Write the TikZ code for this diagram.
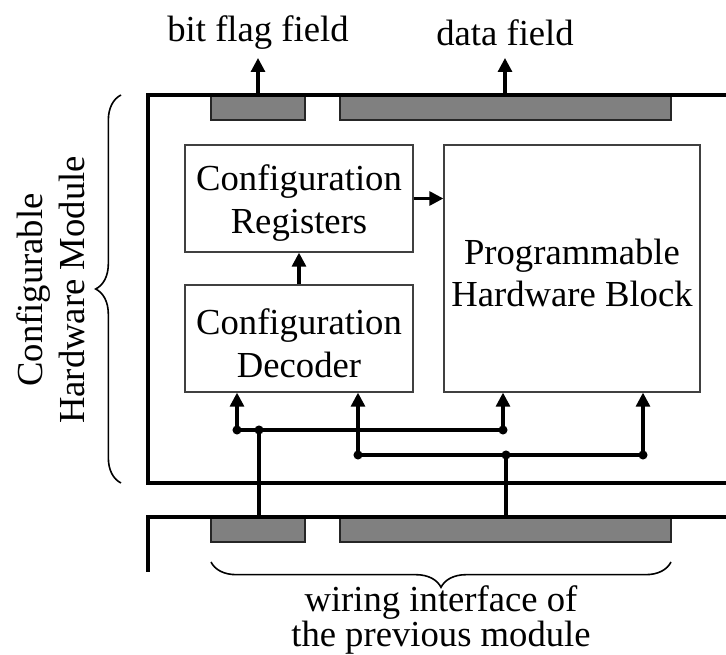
\documentclass[tikz,border=0pt]{standalone}
\usepackage{fontspec}
\setmainfont{Liberation Serif}
\usetikzlibrary{arrows.meta,decorations.pathreplacing}
\begin{document}
\begin{tikzpicture}[x=0.75pt,y=-0.75pt,
  every node/.style={font=\fontsize{27.5}{32}\selectfont},
  frame/.style={line width=2.9pt},
  wire/.style={line width=2.3pt},
  arr/.style={wire,-{Triangle[length=10.5pt,width=10.5pt]}},
  block/.style={draw=black!75,line width=1pt,fill=white,inner sep=0pt},
  btext/.style={align=center,inner sep=0pt,yshift=-3.4pt},
  field/.style={draw=black!85,line width=1.2pt,fill=black!50,inner sep=0pt,minimum height=18.75pt},
  lbl/.style={align=center,inner sep=0pt},
  curly/.style={decorate,decoration={brace,amplitude=19pt},line width=1.2pt}]
\useasboundingbox (0,0) rectangle (726,655);

% output fields of this module
\node[field,minimum width=70.5pt] (flagT) at (258,107.5) {};
\node[field,minimum width=248.25pt] (dataT) at (505.5,107.5) {};
\draw[frame] (726,95) -- (148,95) -- (148,483) -- (726,483);

\node[lbl] (flagL) at (258,33) {bit flag field};
\node[lbl] (dataL) at (505,33) {data field};
\coordinate (flagTip) at (258,58);
\coordinate (dataTip) at (505,58);
\draw[arr] (flagT.north) -- (flagTip);
\draw[arr] (dataT.north -| dataTip) -- (dataTip);

% internal blocks
\node[block,minimum width=171pt,minimum height=80.25pt] (reg) at (299,198.5) {};
\node[btext] (regT) at (reg) {Configuration\\Registers};
\node[block,minimum width=171pt,minimum height=80.25pt] (dec) at (299,338.5) {};
\node[btext] (decT) at (dec) {Configuration\\Decoder};
\node[block,minimum width=192pt,minimum height=185.25pt] (phb) at (572,268.5) {};
\node[btext] (phbT) at (phb) {Programmable\\Hardware Block};
\draw[arr] (dec.north) -- (reg.south);
\draw[arr] (reg.east) -- (reg.east -| phb.west);

% input fields of the previous module
\node[field,minimum width=70.5pt] (flagB) at (258,529.5) {};
\node[field,minimum width=248.25pt] (dataB) at (505.5,529.5) {};
\draw[frame] (726,517) -- (148,517) -- (148,572);

% wiring
\coordinate (j1) at (237,430);
\coordinate (j2) at (259,430);
\coordinate (j3) at (503,430);
\coordinate (k1) at (358,455);
\coordinate (k2) at (506,455);
\coordinate (k3) at (643,455);
\draw[wire] (j1) -- (j3);
\draw[wire] (k1) -- (k3);
\draw[wire] (j2) -- (j2 |- flagB.north);
\draw[wire] (k2) -- (k2 |- dataB.north);
\draw[arr] (j1) -- (j1 |- dec.south);
\draw[arr] (k1) -- (k1 |- dec.south);
\draw[arr] (j3) -- (j3 |- phb.south);
\draw[arr] (k3) -- (k3 |- phb.south);
\foreach \p in {j1,j2,j3,k1,k2,k3} \fill (\p) circle[radius=3.4pt];

% braces and their labels
\draw[curly] (121,483) -- (121,95);
\node[lbl,rotate=90,font=\fontsize{27.5}{31.5}\selectfont] (modL) at (50.5,290) {Configurable\\Hardware Module};
\draw[curly] (671,562) -- (211,562);
\node[lbl,font=\fontsize{27.5}{24}\selectfont] (wireL) at (441,620) {wiring interface of\\the previous module};
\end{tikzpicture}
\end{document}
